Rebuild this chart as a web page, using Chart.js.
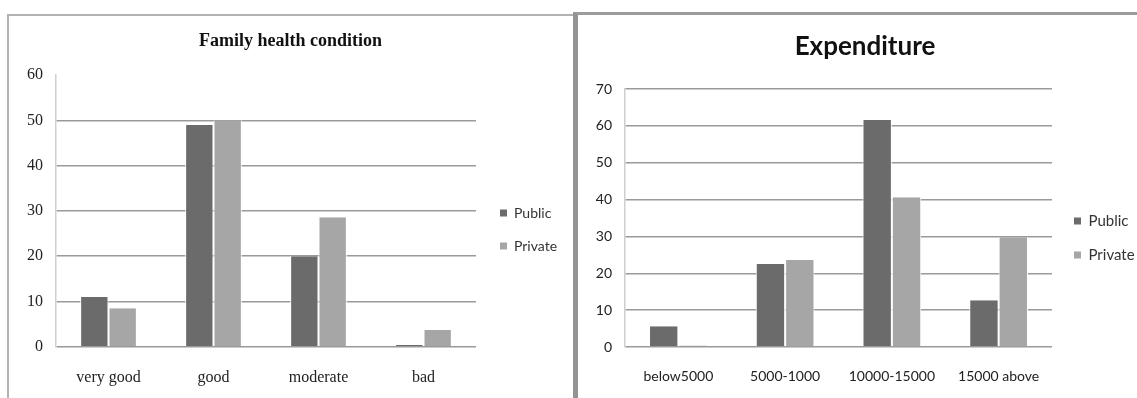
<!DOCTYPE html>
<html>
<head>
<meta charset="utf-8">
<script src="https://cdn.jsdelivr.net/npm/chart.js@4/dist/chart.umd.min.js"></script>
<style>
  html, body { margin: 0; padding: 0; background: #fff; }
  body { width: 1137px; height: 398px; position: relative; overflow: hidden; }
  .frame { position: absolute; box-sizing: border-box; }
  #frameHealth { left: 7px; top: 14px; width: 570px; height: 400px;
    border-left: 2px solid #b2b2b2; border-top: 2px solid #b2b2b2; }
  #frameExpense { left: 573px; top: 12px; width: 570px; height: 400px;
    border-left: 5px solid #939393; border-top: 3px solid #9c9c9c; }
  canvas { position: absolute; }
  #healthChart { left: 9px; top: 16px; }
  #expenseChart { left: 579px; top: 15px; }
</style>
</head>
<body>
<div class="frame" id="frameHealth"></div>
<div class="frame" id="frameExpense"></div>
<canvas id="healthChart" width="563" height="382"></canvas>
<canvas id="expenseChart" width="558" height="383"></canvas>
<script>
// Family health condition (percent of respondents)
const healthCategories = ['very good', 'good', 'moderate', 'bad'];
const healthPublic = [11, 49, 20, 0.4];
const healthPrivate = [8.5, 50, 28.6, 3.7];
const healthTicks = [0, 10, 20, 30, 40, 50, 60];

// Monthly expenditure bands
const expenseCategories = ['below5000', '5000-1000', '10000-15000', '15000 above'];
const expensePublic = [5.6, 22.5, 61.6, 12.7];
const expensePrivate = [0.4, 23.6, 40.6, 29.8];
const expenseTicks = [0, 10, 20, 30, 40, 50, 60, 70];

const seriesNames = ['Public', 'Private'];
const PUBLIC_COLOR = '#6b6b6b';
const PRIVATE_COLOR = '#a6a6a6';
const GRID_COLOR = '#9a9a9a';

// Puts the legend column beside the plot and centres the title over the whole panel.
const panelPlacement = {
  id: 'panelPlacement',
  afterLayout(chart, args, opts) {
    const lg = chart.legend;
    if (lg) {
      lg.left = opts.legendLeft;
      lg.top = opts.legendTop;
      lg.right = chart.width;
      lg.bottom = chart.height;
      lg.width = lg.right - lg.left;
      lg.height = lg.bottom - lg.top;
    }
    const tb = chart.titleBlock;
    if (tb) {
      tb.left = opts.titleLeft;
      tb.right = chart.width;
      tb.width = tb.right - tb.left;
    }
  }
};

function legendLabels(chart) {
  return Chart.defaults.plugins.legend.labels.generateLabels(chart)
    .map(item => Object.assign({}, item, { lineWidth: 0 }));
}

const barEdge = { left: 1, right: 1, top: 0, bottom: 0 };

function buildChart(el, cfg) {
  return new Chart(el, {
    type: 'bar',
    plugins: [panelPlacement],
    data: {
      labels: cfg.categories,
      datasets: [
        { label: seriesNames[0], data: cfg.publicValues, backgroundColor: PUBLIC_COLOR,
          borderColor: '#ffffff', borderWidth: barEdge, borderSkipped: false,
          categoryPercentage: cfg.groupWidth, barPercentage: 1 },
        { label: seriesNames[1], data: cfg.privateValues, backgroundColor: PRIVATE_COLOR,
          borderColor: '#ffffff', borderWidth: barEdge, borderSkipped: false,
          categoryPercentage: cfg.groupWidth, barPercentage: 1 }
      ]
    },
    options: {
      responsive: false,
      animation: false,
      events: [],
      layout: { padding: { left: 0, right: cfg.padRight, top: 0, bottom: 0 } },
      plugins: {
        title: {
          display: true,
          text: cfg.title,
          font: cfg.titleFont,
          color: '#111',
          padding: cfg.titlePadding
        },
        legend: {
          display: true,
          position: 'chartArea',
          align: 'start',
          labels: {
            boxWidth: 7,
            boxHeight: 7,
            padding: 19,
            color: '#333',
            font: cfg.legendFont,
            generateLabels: legendLabels
          }
        },
        panelPlacement: cfg.placement,
        tooltip: { enabled: false }
      },
      scales: {
        x: {
          grid: { display: false, drawTicks: false },
          border: { display: false },
          ticks: { color: '#222', font: cfg.tickFont, padding: cfg.xTickPad, maxRotation: 0, autoSkip: false },
          afterFit(scale) { scale.height = cfg.xAxisHeight; }
        },
        y: {
          min: 0,
          max: cfg.ticks[cfg.ticks.length - 1],
          afterBuildTicks(scale) { scale.ticks = cfg.ticks.map(v => ({ value: v })); },
          grid: {
            drawTicks: false,
            lineWidth: 1.5,
            color(ctx) {
              const last = ctx.index === cfg.ticks.length - 1;
              return (last && !cfg.topGrid) ? 'rgba(0,0,0,0)' : GRID_COLOR;
            }
          },
          border: { display: true, color: '#cfcfcf', width: 1.5 },
          ticks: { color: '#222', font: cfg.tickFont, padding: 13 },
          afterFit(scale) { scale.width = cfg.yAxisWidth; }
        }
      }
    }
  });
}

buildChart(document.getElementById('healthChart'), {
  categories: healthCategories,
  publicValues: healthPublic,
  privateValues: healthPrivate,
  ticks: healthTicks,
  topGrid: false,
  title: 'Family health condition',
  titleFont: { family: 'Liberation Serif', size: 18, weight: 'bold' },
  titlePadding: { top: 14.5, bottom: 23 },
  tickFont: { family: 'Liberation Serif', size: 16 },
  legendFont: { family: 'Lato', size: 14 },
  placement: { legendLeft: 472, legendTop: 171, titleLeft: 0 },
  groupWidth: 0.54,
  padRight: 96,
  yAxisWidth: 47,
  xAxisHeight: 51.3,
  xTickPad: 21.5
});

buildChart(document.getElementById('expenseChart'), {
  categories: expenseCategories,
  publicValues: expensePublic,
  privateValues: expensePrivate,
  ticks: expenseTicks,
  topGrid: true,
  title: 'Expenditure',
  titleFont: { family: 'Lato', size: 26, weight: 'bold' },
  titlePadding: { top: 16.5, bottom: 26.3 },
  tickFont: { family: 'Lato', size: 14 },
  legendFont: { family: 'Lato', size: 15 },
  placement: { legendLeft: 476, legendTop: 179.5, titleLeft: 14 },
  groupWidth: 0.55,
  padRight: 85,
  yAxisWidth: 46,
  xAxisHeight: 51,
  xTickPad: 21.5
});
</script>
</body>
</html>
